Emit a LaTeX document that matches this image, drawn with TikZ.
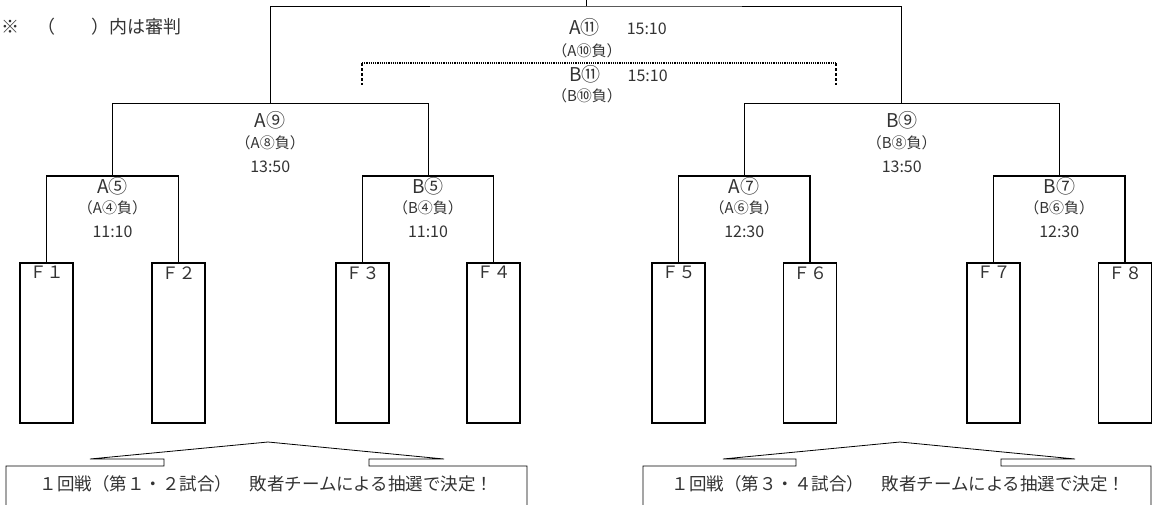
\documentclass[tikz,border=0pt]{standalone}
\usepackage{fontspec}
\setmainfont{Noto Sans CJK JP}
\tikzset{
  team/.style={draw,line width=1.6pt,minimum width=53pt,minimum height=160pt,inner sep=0pt},
  teamlabel/.style={font=\fontsize{17}{17}\selectfont,text=black!80},
  game/.style={font=\fontsize{19}{19}\selectfont,inner sep=0pt,text=black!80},
  umpire/.style={font=\fontsize{15}{15}\selectfont,inner sep=0pt,text=black!80},
  clock/.style={font=\fontsize{16}{16}\selectfont,inner sep=0pt,text=black!80},
  firstround/.style={line width=1.6pt},
  upper/.style={line width=1pt},
  callout/.style={line width=0.8pt},
}

\begin{document}
\begin{tikzpicture}[x=1pt,y=-1pt]
  \clip (0,0) rectangle (1152,504);

  % teams
  \foreach \n/\x/\t in {1/46.5/１,2/178.5/２,3/362.5/３,4/493.5/４,5/678.5/５,6/810/６,7/993.5/７,8/1125/８}
    \node[team,label={[teamlabel,anchor=north,inner sep=4pt]north:Ｆ\t}] (f\n) at (\x,343) {};

  % joins
  \coordinate (j5a) at (112.5,176);
  \coordinate (j5b) at (428,176);
  \coordinate (j7a) at (744.25,176);
  \coordinate (j7b) at (1059.25,176);
  \coordinate (j9a) at (270.25,103.5);
  \coordinate (j9b) at (901.75,103.5);
  \coordinate (j11) at (586,6);
  \coordinate (top) at (586,0);

  \draw[firstround] (f1.north) |- (j5a) -| (f2.north);
  \draw[firstround] (f3.north) |- (j5b) -| (f4.north);
  \draw[firstround] (f5.north) |- (j7a) -| (f6.north);
  \draw[firstround] (f7.north) |- (j7b) -| (f8.north);
  \draw[upper] (j5a) |- (j9a) -| (j5b);
  \draw[upper] (j7a) |- (j9b) -| (j7b);
  \draw[upper] (j9a) |- (j11) -| (j9b);
  \draw[upper] (j11) -- (top);

  % third place bracket
  \coordinate (dl) at (362,63);
  \coordinate (dr) at (836,63);
  \draw[densely dotted,line width=1.2pt] (dl) -- (dr);
  \draw[line width=1.4pt,dash pattern=on 3pt off 2pt] (dl) -- ++(0,22) (dr) -- ++(0,22);

  % games
  \foreach \nm/\x/\g/\u/\c in {5a/112.5/A⑤/（A④負）/11:10,5b/428/B⑤/（B④負）/11:10,7a/744.25/A⑦/（A⑥負）/12:30,7b/1059.25/B⑦/（B⑥負）/12:30}{
    \node[game] (g\nm) at (\x,186) {\g};
    \node[umpire] (u\nm) at (\x,208) {\u};
    \node[clock] (c\nm) at (\x,232) {\c};
  }
  \foreach \nm/\x/\g/\u in {9a/270.25/A⑨/（A⑧負）,9b/901.75/B⑨/（B⑧負）}{
    \node[game] (g\nm) at (\x,120) {\g};
    \node[umpire] (u\nm) at (\x,143) {\u};
    \node[clock] (c\nm) at (\x,167) {13:50};
  }
  \node[game,anchor=west] (g11a) at (569,27) {A⑪\hspace{27pt}\fontsize{16}{16}\selectfont 15:10};
  \node[umpire] (u11a) at (587,51) {（A⑩負）};
  \node[game,anchor=west] (g11b) at (569,74) {B⑪\hspace{27pt}\fontsize{16}{16}\selectfont 15:10};
  \node[umpire] (u11b) at (587,96) {（B⑩負）};

  \node[anchor=west,inner sep=0pt,font=\fontsize{18}{18}\selectfont,text=black!80] (note) at (1,27) {※　（　　）内は審判};

  % draw notes
  \draw[callout] (6,510) |- (164,466) -- (164,459) -- (90,459) -- (268,442)
    -- (444,459) -- (369,459) -- (369,466) -| (527,510);
  \draw[callout] (643,510) |- (796,466) -- (796,459) -- (723,459) -- (900,442)
    -- (1075,459) -- (1001,459) -- (1001,466) -| (1151,510);
  \node[font=\fontsize{17.5}{17.5}\selectfont,text=black!80] (r1) at (266.5,484) {１回戦（第１・２試合）　敗者チームによる抽選で決定！};
  \node[font=\fontsize{17.5}{17.5}\selectfont,text=black!80] (r2) at (898.5,484) {１回戦（第３・４試合）　敗者チームによる抽選で決定！};
\end{tikzpicture}
\end{document}
